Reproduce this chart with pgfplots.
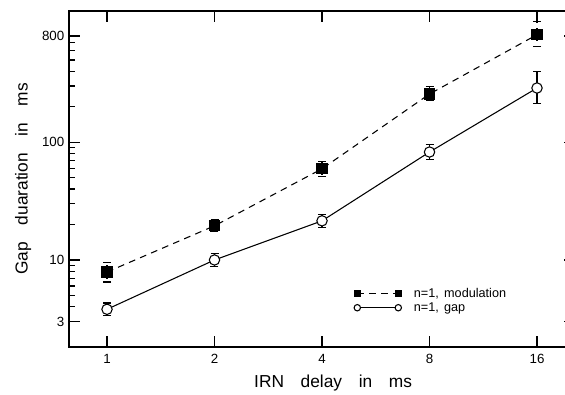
\documentclass[border=0pt]{standalone}
\usepackage{fontspec}
\setmainfont{Liberation Sans}
\usepackage{pgfplots}
\pgfplotsset{compat=1.18}
\newcommand{\wsp}{\hspace{12.5pt}}
\begin{document}
\begin{tikzpicture}
\begin{axis}[
  scale only axis, width=379.5pt, height=251.8pt,
  xmode=log, ymode=log, log basis x=2,
  xmin=0.7827, xmax=20.44, ymin=1.834, ymax=1305,
  xtick={1,2,4,8,16}, xticklabels={1,2,4,8,16},
  minor xtick={},
  ytick={3,10,100,800}, yticklabels={3,10,100,800},
  minor ytick={4,5,6,7,8,9,20,30,40,50,60,70,80,90,200,300,400,500,600,700},
  tick align=inside,
  major tick length=8pt, minor tick length=4.5pt,
  every tick/.style={line width=1pt, black},
  axis line style={line width=1.3pt},
  /pgf/number format/assume math mode=true,
  ticklabel style={font=\fontsize{10}{12}\selectfont},
  xticklabel style={yshift=-2pt},
  yticklabel style={xshift=0pt},
  xlabel={IRN\wsp delay\wsp in\wsp ms},
  ylabel={Gap\wsp duaration\wsp in\wsp ms},
  label style={font=\fontsize{13}{15}\selectfont},
  xlabel style={at={(rel axis cs:0.522,-0.108)}, anchor=center},
  ylabel style={at={(rel axis cs:-0.0907,0.5)}, anchor=center, rotate=0},
  clip=false,
  legend style={draw=none, fill=none, font=\fontsize{9.5}{11}\selectfont,
    at={(rel axis cs:0.555,0.1376)}, anchor=west, row sep=-1.5pt,
    legend cell align=left},
  legend image code/.code={\draw[#1, mark size=2.4pt] plot coordinates {(0pt,0pt) (30.75pt,0pt)}; \path (40pt,0pt);},
  error bars/y dir=both, error bars/y explicit,
  error bars/error mark options={rotate=90, mark size=3pt, line width=0.8pt, black},
  error bars/error bar style={line width=0.8pt, black},
]
\addplot[black, line width=0.8pt, dash pattern=on 5pt off 4pt, mark=square*,
  mark size=3.75pt, mark options={solid, fill=black}]
  coordinates {
  (1,7.9) += (0,1.6) -= (0,1.4)
  (2,19.5) += (0,2.5) -= (0,2.1)
  (4,59.5) += (0,9.5) -= (0,8.6)
  (8,257) += (0,42) -= (0,29)
  (16,820) += (0,235) -= (0,167)
  };
\addlegendentry{n=1,\hspace{4pt}modulation}
\addplot[black, line width=0.8pt, solid, mark=*,
  mark size=3.9pt, mark options={solid, fill=white}]
  coordinates {
  (1,3.81) += (0,0.5) -= (0,0.42)
  (2,10) += (0,1.3) -= (0,1.2)
  (4,21.5) += (0,3) -= (0,2.5)
  (8,82.6) += (0,13.4) -= (0,11.6)
  (16,289) += (0,110) -= (0,75)
  };
\addlegendentry{n=1,\hspace{4pt}gap}
\coordinate (BL) at (rel axis cs:0,0);
\end{axis}
\pgfresetboundingbox
\path ([shift={(-51.75pt,-35.5pt)}]BL) rectangle ([shift={(372pt,260pt)}]BL);
\end{tikzpicture}
\end{document}
